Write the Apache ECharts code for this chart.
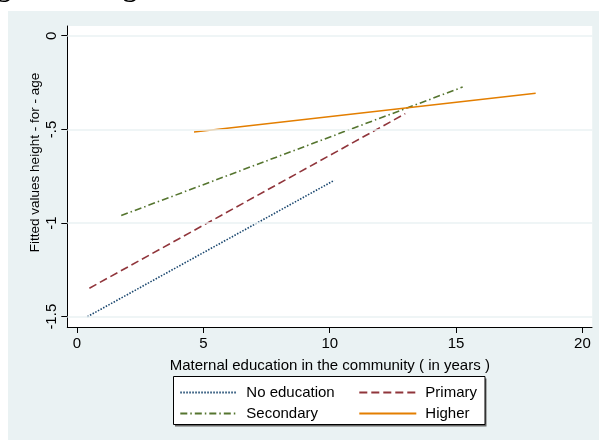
<!DOCTYPE html>
<html>
<head>
<meta charset="utf-8">
<script src="https://cdn.jsdelivr.net/npm/echarts@6/dist/echarts.min.js"></script>
<style>html,body{margin:0;padding:0;background:#fff;overflow:hidden}#c{width:599px;height:440px}</style>
</head>
<body>
<div id="c"></div>
<script>
// ---- data ----
const xTicks = [0, 5, 10, 15, 20];
const yTicks = [0, -0.5, -1, -1.5];
const yTickLabels = ['0', '-.5', '-1', '-1.5'];
const seriesNames = ['No education', 'Primary', 'Secondary', 'Higher'];
const noEducationX = [0.41, 10.18];
const noEducationY = [-1.50, -0.772];
const primaryX = [0.49, 12.99];
const primaryY = [-1.348, -0.416];
const secondaryX = [1.75, 15.26];
const secondaryY = [-0.96, -0.274];
const higherX = [4.63, 18.15];
const higherY = [-0.514, -0.307];
const xTitle = 'Maternal education in the community ( in years )';
const yTitle = 'Fitted values height - for - age';

const FONT = 'Liberation Sans, Arial, sans-serif';
const BG = '#EAF2F3';
const colors = ['#1a476f', '#90353b', '#55752f', '#e37e00'];

function pts(xs, ys) { return xs.map((x, i) => [x, ys[i]]); }

function lineSeries(name, xs, ys, color, type) {
  return {
    name: name, type: 'line', data: pts(xs, ys), symbol: 'none', z: 3,
    lineStyle: { color: color, width: 1.6, type: type },
    itemStyle: { color: color }, animation: false
  };
}

const legendCommon = {
  orient: 'vertical', padding: 0, itemWidth: 57, itemHeight: 14, itemGap: 6,
  selectedMode: false,
  itemStyle: { opacity: 0 },
  textStyle: { fontFamily: FONT, fontSize: 15, color: '#000', padding: [0, 0, 0, 4] }
};

const chart = echarts.init(document.getElementById('c'), null, { renderer: 'canvas' });
chart.setOption({
  backgroundColor: BG,
  animation: false,
  graphic: [
    { type: 'rect', shape: { x: 0, y: 0, width: 599, height: 11 }, style: { fill: '#fff' }, silent: true },
    { type: 'rect', shape: { x: 0, y: 0, width: 8, height: 440 }, style: { fill: '#fff' }, silent: true },
    { type: 'rect', z: 100, shape: { x: 592.6, y: 11, width: 7, height: 429 }, style: { fill: BG }, silent: true },
    { type: 'text', x: 4, y: -11, style: { text: 'g', font: 'bold 28px Liberation Serif', fill: '#000', align: 'center', verticalAlign: 'middle' }, silent: true },
    { type: 'text', x: 130, y: -11, style: { text: 'g', font: 'bold 28px Liberation Serif', fill: '#000', align: 'center', verticalAlign: 'middle' }, silent: true },
    { type: 'text', x: 35.7, y: 162.5, rotation: Math.PI / 2,
      style: { text: yTitle, font: '13.5px ' + FONT, fill: '#000', align: 'center', verticalAlign: 'middle' }, silent: true },
    { type: 'rect', shape: { x: 175, y: 378.5, width: 311.5, height: 48 }, style: { fill: '#666' }, silent: true },
    { type: 'rect', shape: { x: 173.5, y: 376.5, width: 311.5, height: 48 }, style: { fill: '#fff', stroke: '#000', lineWidth: 1 }, silent: true }
  ],
  grid: {
    left: 67.3, top: 26, width: 525, height: 301,
    show: true, backgroundColor: '#fff', borderWidth: 0, containLabel: false
  },
  xAxis: {
    type: 'value', min: -0.384, max: 20.39,
    name: xTitle, nameLocation: 'middle', nameGap: 31,
    nameTextStyle: { fontFamily: FONT, fontSize: 15, color: '#000' },
    axisLine: { show: true, onZero: false, lineStyle: { color: '#000', width: 1 } },
    axisTick: { show: true, customValues: xTicks, length: 6, lineStyle: { color: '#000', width: 1 } },
    axisLabel: { show: true, customValues: xTicks, margin: 9, fontFamily: FONT, fontSize: 15, color: '#000',
      formatter: v => String(v) },
    splitLine: { show: false }
  },
  yAxis: {
    type: 'value', min: -1.555, max: 0.052,
    axisLine: { show: true, onZero: false, lineStyle: { color: '#000', width: 1 } },
    axisTick: { show: true, customValues: yTicks, length: 6, lineStyle: { color: '#000', width: 1 } },
    axisLabel: { show: true, customValues: yTicks, rotate: 90, margin: 8, fontFamily: FONT, fontSize: 15, color: '#000',
      formatter: function (v) {
        let best = 0;
        yTicks.forEach((t, i) => { if (Math.abs(t - v) < Math.abs(yTicks[best] - v)) best = i; });
        return yTickLabels[best];
      } },
    splitLine: { show: false }
  },
  legend: [
    Object.assign({}, legendCommon, { data: [seriesNames[0], seriesNames[2]], left: 179.3, top: 385 }),
    Object.assign({}, legendCommon, { data: [seriesNames[1], seriesNames[3]], left: 358.3, top: 385 })
  ],
  series: [
    {
      name: 'gridlines', type: 'line', data: [], z: 1, silent: true, animation: false,
      markLine: {
        silent: true, symbol: 'none', animation: false,
        label: { show: false },
        lineStyle: { color: BG, width: 1.5, type: 'solid' },
        data: yTicks.map(v => ({ yAxis: v }))
      }
    },
    lineSeries(seriesNames[0], noEducationX, noEducationY, colors[0], [1.5, 1.5]),
    lineSeries(seriesNames[1], primaryX, primaryY, colors[1], [8, 4]),
    lineSeries(seriesNames[2], secondaryX, secondaryY, colors[2], [7, 3, 1.5, 3]),
    lineSeries(seriesNames[3], higherX, higherY, colors[3], 'solid')
  ]
});
</script>
</body>
</html>
